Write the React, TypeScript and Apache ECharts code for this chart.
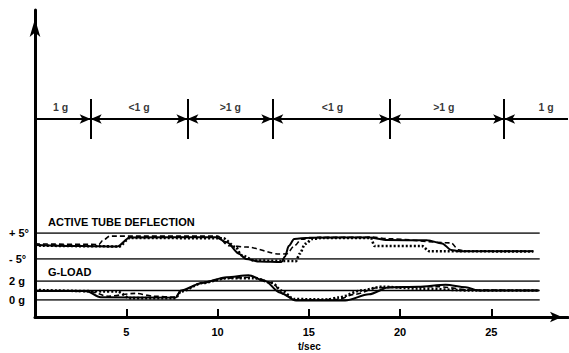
import React, { useEffect, useRef } from "react";
import * as echarts from "echarts";

// time axis
const timeMax = 29.2;
const refLineEnd = 27.65;

// phase annotation (top band)
const phaseBounds = [3.05, 8.35, 13.0, 19.45, 25.7];
const phaseLabels = ["1 g", "<1 g", ">1 g", "<1 g", ">1 g", "1 g"];
const phaseLabelT = [1.4, 5.7, 10.7, 16.3, 22.4, 28.0];

// active tube deflection (degrees)
const deflRefLines = [5, -5];
const deflSolid: [number, number][] = [
  [0, 0.4], [2.5, 0], [4.5, -0.2], [5.2, 3.3], [9.9, 3.4], [10.5, 1.4], [11.2, -3.1],
  [11.55, -5], [12.3, -6], [13.5, -6.2], [13.7, -4], [13.9, 0], [14.2, 2.7], [15, 3.2],
  [18.3, 3.3], [19.3, 2.3], [21.5, 2.2], [22.3, 1.0], [22.8, -1.5], [23.2, -2], [27.3, -2],
];
const deflDashed: [number, number][] = [
  [0, 0.8], [3.5, 0.6], [3.7, 2], [4.1, 3.8], [10, 3.8], [10.6, 0.1], [11.6, -0.4],
  [13.4, -3.1], [13.8, -3.0], [14.2, 0], [14.6, 2.6], [15.5, 3.3], [18.5, 3.4], [19.3, 2.8],
  [22.8, 1.2], [23.2, -1.5], [23.6, -2], [27.3, -2],
];
const deflDotted: [number, number][] = [
  [0, 0.2], [3.5, -0.1], [4.6, -0.2], [5.2, 3.1], [10.3, 3.0], [11.0, -0.4], [11.3, -3.5],
  [12.0, -5.6], [14.3, -5.8], [14.5, -3], [14.8, 0.8], [15.2, 2.7], [15.7, 3.1], [18.4, 3.1],
  [18.6, 0], [21.2, 0], [21.6, -2], [27.3, -2.1],
];

// g-load (g)
const gRefLines = [2, 1, 0];
const gSolid: [number, number][] = [
  [0, 0.95], [2.8, 0.95], [3.6, 0.3], [7.7, 0.25], [8.0, 1.0], [9.15, 1.8], [10.5, 2.4],
  [11.7, 2.6], [12.6, 2.0], [13.4, 0.8], [14.3, -0.05], [17.0, -0.05], [18.3, 0.6],
  [19.4, 1.35], [21, 1.4], [22.5, 1.6], [23.6, 1.35], [24.3, 1.0], [27.6, 1.0],
];
const gDotted: [number, number][] = [
  [0, 1.05], [4.5, 0.9], [5.2, 0.2], [7.7, 0.2], [8.0, 0.9], [9.2, 1.8], [10.5, 2.3],
  [12, 2.3], [13.0, 1.8], [13.5, 1.0], [14.2, 0.1], [16.0, 0.05], [16.6, 0.25], [17.9, 1.0],
  [19.0, 1.4], [21, 1.2], [24, 1.0], [27.6, 1.0],
];
const gDashed: [number, number][] = [
  [0, 1.0], [3.0, 0.9], [4.0, 0.4], [5.5, 0.7], [6.5, 0.4], [7.7, 0.3], [8.0, 1.0],
  [9.2, 1.8], [10.5, 2.3], [12, 2.4], [13.0, 1.8], [13.6, 0.6], [14.3, 0.0], [16.6, 0.05],
  [17.5, 0.6], [18.8, 1.3], [22, 1.4], [24, 1.05], [27.6, 1.0],
];

const FONT = "'Liberation Sans', Arial, sans-serif";

export default function App() {
  const ref = useRef<HTMLDivElement>(null);
  useEffect(() => {
    if (!ref.current) return;
    const chart = echarts.init(ref.current, undefined, { renderer: "svg" });
    const L = 35;
    const W = 533;
    const hiddenX = (gi: number) => ({
      type: "value", gridIndex: gi, min: 0, max: timeMax, show: false,
    });
    const refSeries = (vals: number[], xi: number) =>
      vals.map((v) => ({
        type: "line", xAxisIndex: xi, yAxisIndex: xi, silent: true, symbol: "none",
        data: [[0, v], [refLineEnd, v]],
        lineStyle: { color: "#000", width: 1.6 }, z: 1,
      }));
    const curve = (data: [number, number][], xi: number, kind: string) => ({
      type: "line", xAxisIndex: xi, yAxisIndex: xi, symbol: "none", clip: false,
      smooth: 0.3, smoothMonotone: "x", silent: true, data,
      lineStyle:
        kind === "solid"
          ? { color: "#000", width: 2 }
          : kind === "dashed"
          ? { color: "#000", width: 1.6, type: [5, 3] }
          : { color: "#000", width: 2.6, type: [2, 2] },
      z: 3,
    });
    const edges = [0, ...phaseBounds, timeMax];
    const arrowSegs = edges.slice(0, -1).map((s, i) => [
      { coord: [s, 0.5], symbol: i === 0 ? "none" : "arrow" },
      { coord: [edges[i + 1], 0.5], symbol: i === edges.length - 2 ? "none" : "arrow" },
    ]);
    const dividers = phaseBounds.map((t) => [
      { coord: [t, 0], symbol: "none" },
      { coord: [t, 1], symbol: "none" },
    ]);
    const g = (top: number, height: number) => ({
      left: L, top, width: W, height, containLabel: false, outerBoundsMode: "none",
    });
    chart.setOption({
      animation: false,
      textStyle: { fontFamily: FONT },
      grid: [g(10, 307), g(233, 26), g(281, 19), g(99, 40)],
      xAxis: [
        {
          type: "value", gridIndex: 0, min: 0, max: timeMax, interval: 5,
          axisLine: {
            show: true, symbol: ["none", "arrow"], symbolSize: [8, 12], symbolOffset: [0, -6],
            lineStyle: { color: "#000", width: 3 },
          },
          axisTick: { show: true, inside: true, length: 8, lineStyle: { color: "#000", width: 2 } },
          axisLabel: {
            color: "#000", fontWeight: "bold", fontSize: 11, margin: 9, fontFamily: FONT,
            showMinLabel: false, showMaxLabel: false,
            formatter: (v: number) => (v === 0 || v % 5 !== 0 ? "" : String(v)),
          },
          splitLine: { show: false },
        },
        hiddenX(1),
        hiddenX(2),
        hiddenX(3),
      ],
      yAxis: [
        {
          type: "value", gridIndex: 0, min: 0, max: 1,
          axisLine: {
            show: true, symbol: ["none", "arrow"], symbolSize: [8, 18], symbolOffset: [0, -9],
            lineStyle: { color: "#000", width: 3 },
          },
          axisTick: { show: false }, axisLabel: { show: false }, splitLine: { show: false },
        },
        {
          type: "value", gridIndex: 1, min: -5, max: 5, interval: 10,
          axisLine: { show: false }, axisTick: { show: false }, splitLine: { show: false },
          axisLabel: {
            color: "#000", fontWeight: "bold", fontSize: 11, align: "left", margin: 26, fontFamily: FONT,
            formatter: (v: number) => (v > 0 ? "+ 5°" : "- 5°"),
          },
        },
        {
          type: "value", gridIndex: 2, min: 0, max: 2, interval: 1,
          axisLine: { show: false }, axisTick: { show: false }, splitLine: { show: false },
          axisLabel: {
            color: "#000", fontWeight: "bold", fontSize: 11, align: "left", margin: 26, fontFamily: FONT,
            formatter: (v: number) => (v === 1 ? "" : v + " g"),
          },
        },
        { type: "value", gridIndex: 3, min: 0, max: 1, show: false },
      ],
      graphic: [
        {
          type: "text", left: 48, top: 216,
          style: { text: "ACTIVE TUBE DEFLECTION", font: `bold 11px ${FONT}`, fill: "#000" },
        },
        {
          type: "text", left: 48, top: 266,
          style: { text: "G-LOAD", font: `bold 11px ${FONT}`, fill: "#000" },
        },
        {
          type: "text", left: 298, top: 341,
          style: { text: "t/sec", font: `bold 10px ${FONT}`, fill: "#000" },
        },
      ],
      series: [
        ...refSeries(deflRefLines, 1),
        ...refSeries(gRefLines, 2),
        curve(deflSolid, 1, "solid"),
        curve(deflDashed, 1, "dashed"),
        curve(deflDotted, 1, "dotted"),
        curve(gSolid, 2, "solid"),
        curve(gDashed, 2, "dashed"),
        curve(gDotted, 2, "dotted"),
        {
          type: "scatter", xAxisIndex: 3, yAxisIndex: 3, silent: true, symbolSize: 1,
          itemStyle: { color: "transparent" },
          data: phaseLabelT.map((t, i) => ({ value: [t, 0.79], name: phaseLabels[i] })),
          label: {
            show: true, position: "inside", formatter: "{b}", color: "#000",
            fontWeight: "bold", fontSize: 10.5, fontFamily: FONT,
          },
          markLine: {
            silent: true, symbolSize: [7, 11], label: { show: false },
            lineStyle: { color: "#000", width: 2, type: "solid" },
            data: [...arrowSegs, ...dividers],
          },
        },
      ],
    });
    return () => chart.dispose();
  }, []);
  return (
    <div
      ref={ref}
      style={{ position: "fixed", left: 0, top: 0, width: 569, height: 353, background: "#fff" }}
    />
  );
}
